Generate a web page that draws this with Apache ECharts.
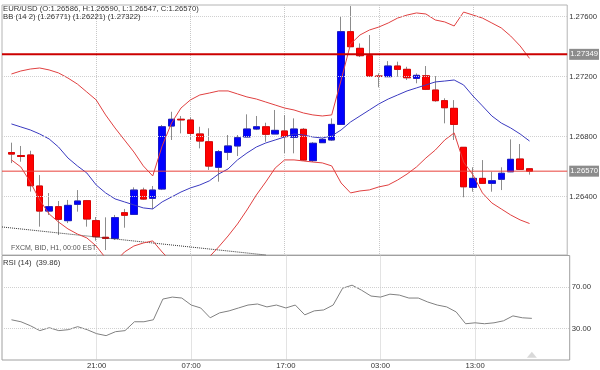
<!DOCTYPE html>
<html><head><meta charset="utf-8">
<script src="https://cdn.jsdelivr.net/npm/echarts@6/dist/echarts.min.js"></script>
<style>html,body{margin:0;padding:0;background:#fff}#c{width:600px;height:370px}</style>
</head><body><div id="c"></div>
<script>
// ---- data ----
const categories = ['11:00','12:00','13:00','14:00','15:00','16:00','17:00','18:00','19:00','20:00',
 '21:00','22:00','23:00','00:00','01:00','02:00','03:00','04:00','05:00','06:00',
 '07:00','08:00','09:00','10:00','11:00','12:00','13:00','14:00','15:00','16:00',
 '17:00','18:00','19:00','20:00','21:00','22:00','23:00','00:00','01:00','02:00',
 '03:00','04:00','05:00','06:00','07:00','08:00','09:00','10:00','11:00','12:00',
 '13:00','14:00','15:00','16:00','17:00','18:00','19:00','20:00','21:00','22:00','23:00'];
const firstCandle = 1;
const timeLabelIdx = [10,20,30,40,50];

const opens = [1.26694,1.26674,1.26678,1.26471,1.26304,1.26333,1.26240,1.26349,1.26373,1.26240,1.26129,1.26122,1.26293,1.26282,1.26444,1.26389,1.26451,1.26871,1.26916,1.26911,1.26818,1.26766,1.26596,1.26696,1.26738,1.26798,1.26851,1.26866,1.26818,1.26838,1.26796,1.26849,1.26640,1.26760,1.26778,1.26882,1.27500,1.27389,1.27340,1.27204,1.27200,1.27271,1.27249,1.27189,1.27206,1.27111,1.27040,1.26989,1.26729,1.26462,1.26522,1.26489,1.26516,1.26566,1.26651,1.26586];
const closes = [1.26684,1.26668,1.26473,1.26304,1.26333,1.26249,1.26342,1.26371,1.26251,1.26133,1.26122,1.26260,1.26276,1.26444,1.26384,1.26444,1.26866,1.26916,1.26912,1.26822,1.26771,1.26604,1.26700,1.26738,1.26793,1.26851,1.26866,1.26816,1.26842,1.26800,1.26851,1.26644,1.26756,1.26782,1.26882,1.27500,1.27400,1.27340,1.27204,1.27202,1.27271,1.27249,1.27193,1.27209,1.27116,1.27040,1.26993,1.26882,1.26466,1.26522,1.26489,1.26506,1.26556,1.26649,1.26582,1.26570];
const lows = [1.26624,1.26633,1.26434,1.26200,1.26278,1.26144,1.26224,1.26300,1.26200,1.26106,1.26044,1.26111,1.26193,1.26278,1.26378,1.26318,1.26444,1.26778,1.26822,1.26778,1.26722,1.26578,1.26500,1.26644,1.26671,1.26796,1.26844,1.26766,1.26818,1.26691,1.26689,1.26638,1.26631,1.26758,1.26771,1.26878,1.27398,1.27331,1.27200,1.27129,1.27198,1.27200,1.27178,1.27156,1.27111,1.27033,1.26889,1.26778,1.26396,1.26433,1.26486,1.26433,1.26444,1.26564,1.26578,1.26547];
const highs = [1.26760,1.26738,1.26706,1.26544,1.26424,1.26371,1.26378,1.26444,1.26378,1.26264,1.26262,1.26278,1.26318,1.26462,1.26460,1.26471,1.26878,1.26966,1.26938,1.26929,1.26866,1.26856,1.26711,1.26811,1.26811,1.26949,1.26938,1.26893,1.26978,1.26944,1.26922,1.26858,1.26764,1.26791,1.26922,1.27600,1.27671,1.27422,1.27478,1.27222,1.27304,1.27300,1.27266,1.27222,1.27271,1.27204,1.27056,1.27044,1.26731,1.26596,1.26644,1.26566,1.26596,1.26782,1.26751,1.26590];

const bbMid = [1.26885,1.26865,1.26845,1.26818,1.26785,1.26731,1.26658,1.26605,1.26558,1.26478,1.26425,1.26385,1.26365,1.26345,1.26325,1.26318,1.26365,1.26398,1.26431,1.26458,1.26478,1.26505,1.26551,1.26585,1.26645,1.26691,1.26731,1.26758,1.26778,1.26798,1.26818,1.26811,1.26798,1.26791,1.26805,1.26845,1.26898,1.26938,1.26978,1.27018,1.27051,1.27078,1.27105,1.27125,1.27145,1.27165,1.27171,1.27178,1.27145,1.27071,1.27005,1.26938,1.26891,1.26858,1.26818,1.26771];
const bbUpper = [1.27218,1.27238,1.27251,1.27258,1.27245,1.27225,1.27191,1.27151,1.27098,1.27045,1.26945,1.26858,1.26778,1.26698,1.26605,1.26538,1.26738,1.26891,1.26991,1.27045,1.27078,1.27091,1.27105,1.27105,1.27085,1.27065,1.27051,1.27031,1.27011,1.26991,1.26978,1.26958,1.26945,1.26938,1.26945,1.27178,1.27418,1.27478,1.27511,1.27531,1.27558,1.27591,1.27611,1.27625,1.27618,1.27578,1.27565,1.27538,1.27631,1.27611,1.27591,1.27558,1.27525,1.27471,1.27405,1.27322];
const bbLower = [1.26645,1.26598,1.26498,1.26378,1.26285,1.26231,1.26185,1.26151,1.26125,1.26071,1.25991,1.25965,1.26031,1.26071,1.26091,1.26105,1.26031,1.25965,1.25925,1.25911,1.25938,1.25998,1.26065,1.26138,1.26218,1.26311,1.26411,1.26498,1.26591,1.26645,1.26645,1.26638,1.26631,1.26625,1.26605,1.26491,1.26425,1.26438,1.26445,1.26465,1.26478,1.26511,1.26551,1.26598,1.26658,1.26711,1.26778,1.26825,1.26631,1.26545,1.26425,1.26358,1.26318,1.26278,1.26245,1.26221];

const rsi = [38.5,36.6,32.8,28.1,30.9,28.1,29.0,31.9,29.0,25.2,23.3,27.1,28.1,36.6,36.6,38.5,58.3,60.2,59.3,52.6,49.8,40.4,45.1,47.0,49.8,52.6,53.6,50.8,52.6,49.8,52.6,43.2,47.0,47.9,52.6,68.7,71.6,66.8,61.2,60.2,63.0,62.1,59.3,59.3,55.5,52.6,50.8,46.0,34.7,35.6,34.7,35.6,37.5,42.2,40.4,39.86];

const priceTicks = [1.264, 1.268, 1.272, 1.276];
const priceMin = 1.26011, priceMax = 1.27678;
const rsiTicks = [30, 70];
const levelLines = [1.27349, 1.26570];
const levelWidths = [2, 1];
const levelColors = ['#cc0000', '#e8403a'];
const trendIdx = [0, 28];
const trendVal = [1.26198, 1.26011];
const markerIdx = 56, markerVal = 5;

// ---- build ----
const FONT = '"Liberation Sans", Arial, sans-serif';
const idx = i => i + firstCandle;
const lastIdx = categories.length - 1;
const candleRows = opens.map((o, i) => [idx(i), o, closes[i], lows[i], highs[i]]);
const bodyRows = opens.map((o, i) => [idx(i), o, closes[i], Math.min(o, closes[i]), Math.max(o, closes[i])]);
const pairs = arr => arr.map((v, i) => [idx(i), v]);
const isTimeIdx = i => timeLabelIdx.indexOf(i) >= 0;
const vSplit = {show: true, interval: (i) => isTimeIdx(i), lineStyle: {type: 'dotted', color: '#c8c8c8', width: 1}};

// level lines drawn as series across the whole axis; the value tags come from a markLine label
const levelSeries = levelLines.map((v, k) => ({
  type: 'line', xAxisIndex: 0, yAxisIndex: 0, data: [[0, v], [lastIdx, v]], symbol: 'none', silent: true, z: 5,
  lineStyle: {color: levelColors[k], width: levelWidths[k], type: 'solid'},
  markLine: {silent: true, precision: 5, symbol: ['none', 'none'],
    lineStyle: {color: 'rgba(255,255,255,0)', width: 0},
    label: {show: true, position: 'end', distance: 2, formatter: p => Number(p.value).toFixed(5),
            backgroundColor: '#8c8c8c', color: '#ffffff', fontSize: 7.7, padding: [2, 1, 1, 1], opacity: 1},
    data: [{yAxis: v}]}
}));

const chart = echarts.init(document.getElementById('c'), null, {renderer: 'canvas'});
const titleStyle = (size, color) => ({fontSize: size, fontWeight: 'normal', color: color, fontFamily: FONT});
chart.setOption({
  animation: false,
  textStyle: {fontFamily: FONT},
  title: [
    {text: 'EUR/USD (O:1.26586, H:1.26590, L:1.26547, C:1.26570)', left: 3, top: 5, padding: 0, textStyle: titleStyle(7.7, '#333')},
    {text: 'BB (14 2) (1.26771) (1.26221) (1.27322)', left: 3, top: 13, padding: 0, textStyle: titleStyle(7.7, '#333')},
    {text: 'FXCM, BID, H1, 00:00 EST', left: 11, top: 244.5, padding: 0, textStyle: titleStyle(7, '#555')},
    {text: 'RSI (14)  (39.86)', left: 3, top: 259, padding: 0, textStyle: titleStyle(7.7, '#333')}
  ],
  grid: [
    {left: 2, right: 30.3, top: 5, height: 250, show: true, borderColor: '#b4b4b4', borderWidth: 1},
    {left: 2, right: 30.3, top: 255.5, height: 105, show: true, borderColor: '#a0a0a0', borderWidth: 1}
  ],
  xAxis: [
    {type: 'category', gridIndex: 0, data: categories, boundaryGap: false,
     axisLine: {show: false}, axisTick: {show: false}, axisLabel: {show: false}, splitLine: vSplit},
    {type: 'category', gridIndex: 1, data: categories, boundaryGap: false,
     axisLine: {show: false}, axisTick: {show: false},
     axisLabel: {show: true, interval: (i) => isTimeIdx(i), fontSize: 7.7, color: '#333', margin: 2},
     splitLine: vSplit}
  ],
  yAxis: [
    {type: 'value', gridIndex: 0, position: 'right', min: priceMin, max: priceMax,
     axisLine: {show: false}, axisTick: {show: false, customValues: priceTicks},
     axisLabel: {customValues: priceTicks, formatter: v => v.toFixed(5), fontSize: 7.7, color: '#333', margin: 2},
     splitLine: {show: false}},
    {type: 'value', gridIndex: 1, position: 'right', min: 0, max: 100,
     axisLine: {show: false}, axisTick: {show: false, customValues: rsiTicks},
     axisLabel: {customValues: rsiTicks, formatter: v => v.toFixed(2), fontSize: 7.7, color: '#333', margin: 2},
     splitLine: {show: false}}
  ],
  series: [
    {type: 'line', xAxisIndex: 0, yAxisIndex: 0, data: [], silent: true,
     markLine: {silent: true, precision: 5, symbol: ['none', 'none'], label: {show: false},
       lineStyle: {type: 'dotted', color: '#d0d0d0', width: 1},
       data: priceTicks.map(v => ({yAxis: v}))}},
    {type: 'line', xAxisIndex: 1, yAxisIndex: 1, data: [], silent: true,
     markLine: {silent: true, precision: 2, symbol: ['none', 'none'], label: {show: false},
       lineStyle: {type: 'dotted', color: '#d0d0d0', width: 1},
       data: rsiTicks.map(v => ({yAxis: v}))}},
    {type: 'line', xAxisIndex: 0, yAxisIndex: 0, data: trendIdx.map((x, i) => [x, trendVal[i]]),
     symbol: 'none', lineStyle: {type: 'dotted', color: '#333', width: 1}, silent: true},
    {type: 'candlestick', xAxisIndex: 0, yAxisIndex: 0, data: candleRows, encode: {x: 0, y: [1, 2, 3, 4]},
     barWidth: 7, silent: true,
     itemStyle: {color: '#8c8c8c', color0: '#8c8c8c', borderColor: '#8c8c8c', borderColor0: '#8c8c8c', borderWidth: 1}},
    {type: 'candlestick', xAxisIndex: 0, yAxisIndex: 0, data: bodyRows, encode: {x: 0, y: [1, 2, 3, 4]},
     barWidth: 7, silent: true,
     itemStyle: {color: '#0000ff', color0: '#ff0000', borderColor: '#1818c8', borderColor0: '#e00000', borderWidth: 1}},
    {type: 'line', xAxisIndex: 0, yAxisIndex: 0, data: pairs(bbUpper), symbol: 'none', silent: true,
     lineStyle: {color: '#e04040', width: 1}},
    {type: 'line', xAxisIndex: 0, yAxisIndex: 0, data: pairs(bbLower), symbol: 'none', silent: true,
     lineStyle: {color: '#e04040', width: 1}},
    {type: 'line', xAxisIndex: 0, yAxisIndex: 0, data: pairs(bbMid), symbol: 'none', silent: true,
     lineStyle: {color: '#3a3ac0', width: 1}},
    ...levelSeries,
    {type: 'line', xAxisIndex: 1, yAxisIndex: 1, data: pairs(rsi), symbol: 'none', silent: true,
     lineStyle: {color: '#808080', width: 1}},
    {type: 'scatter', xAxisIndex: 1, yAxisIndex: 1, data: [[markerIdx, markerVal]], symbol: 'triangle',
     symbolSize: [10, 6], itemStyle: {color: '#d0d0d0'}, silent: true}
  ]
});
</script></body></html>
